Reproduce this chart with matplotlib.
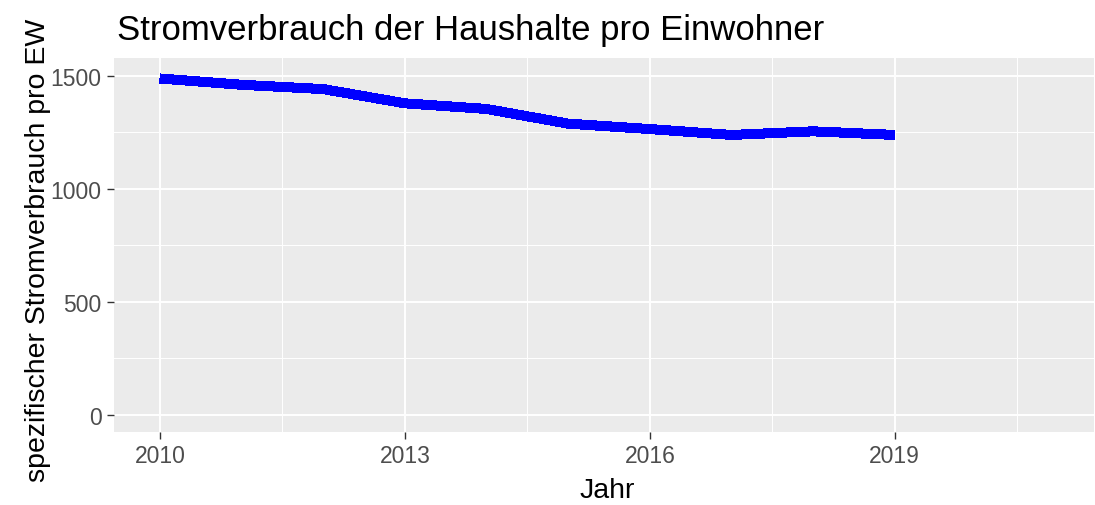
import matplotlib
matplotlib.use('Agg')
import matplotlib.pyplot as plt
import numpy as np

# Werte
jahre = [2010, 2011, 2012, 2013, 2014, 2015, 2016, 2017, 2018, 2019]
verbrauch = [1489, 1461, 1442, 1379, 1354, 1289, 1265, 1239, 1255, 1239]

x_ticks = [2010, 2013, 2016, 2019]
y_ticks = [0, 500, 1000, 1500]

plt.rcParams['font.family'] = ['Liberation Sans', 'DejaVu Sans']

W, H = 1095, 506
fig = plt.figure(figsize=(W / 100, H / 100), dpi=100)
ax = fig.add_axes([114/W, 1 - 432.7/H, (1094 - 114)/W, (432.7 - 58.7)/H])

ax.set_facecolor('#EBEBEB')
ax.plot(jahre, verbrauch, color='#0000FF', linewidth=6.5, solid_capstyle='butt',
        solid_joinstyle='miter', antialiased=False, zorder=3)

ax.set_xlim(2009.437, 2021.44)
ax.set_ylim(-75, 1581)
ax.set_xticks(x_ticks)
ax.set_xticks([2011.5, 2014.5, 2017.5, 2020.5], minor=True)
ax.set_yticks(y_ticks)
ax.set_yticks([250, 750, 1250], minor=True)

ax.grid(which='major', color='white', linewidth=1.4)
ax.grid(which='minor', color='white', linewidth=0.7)
ax.set_axisbelow(True)

for s in ax.spines.values():
    s.set_visible(False)

ax.tick_params(which='major', length=5, width=1, color='#333333',
               labelsize=16.5, labelcolor='#4D4D4D', pad=4)
ax.tick_params(which='minor', length=0)

fig.text(607/W, 1 - 491/H, 'Jahr', fontsize=20.5, color='black',
         ha='center', va='center')
fig.text(38/W, 1 - 250/H, 'spezifischer Stromverbrauch pro EW', fontsize=20.5,
         color='black', ha='center', va='center', rotation=90)
fig.text(117/W, 1 - 40/H, 'Stromverbrauch der Haushalte pro Einwohner',
         fontsize=25, color='black', ha='left', va='baseline')

fig.savefig('out.png', dpi=100)
